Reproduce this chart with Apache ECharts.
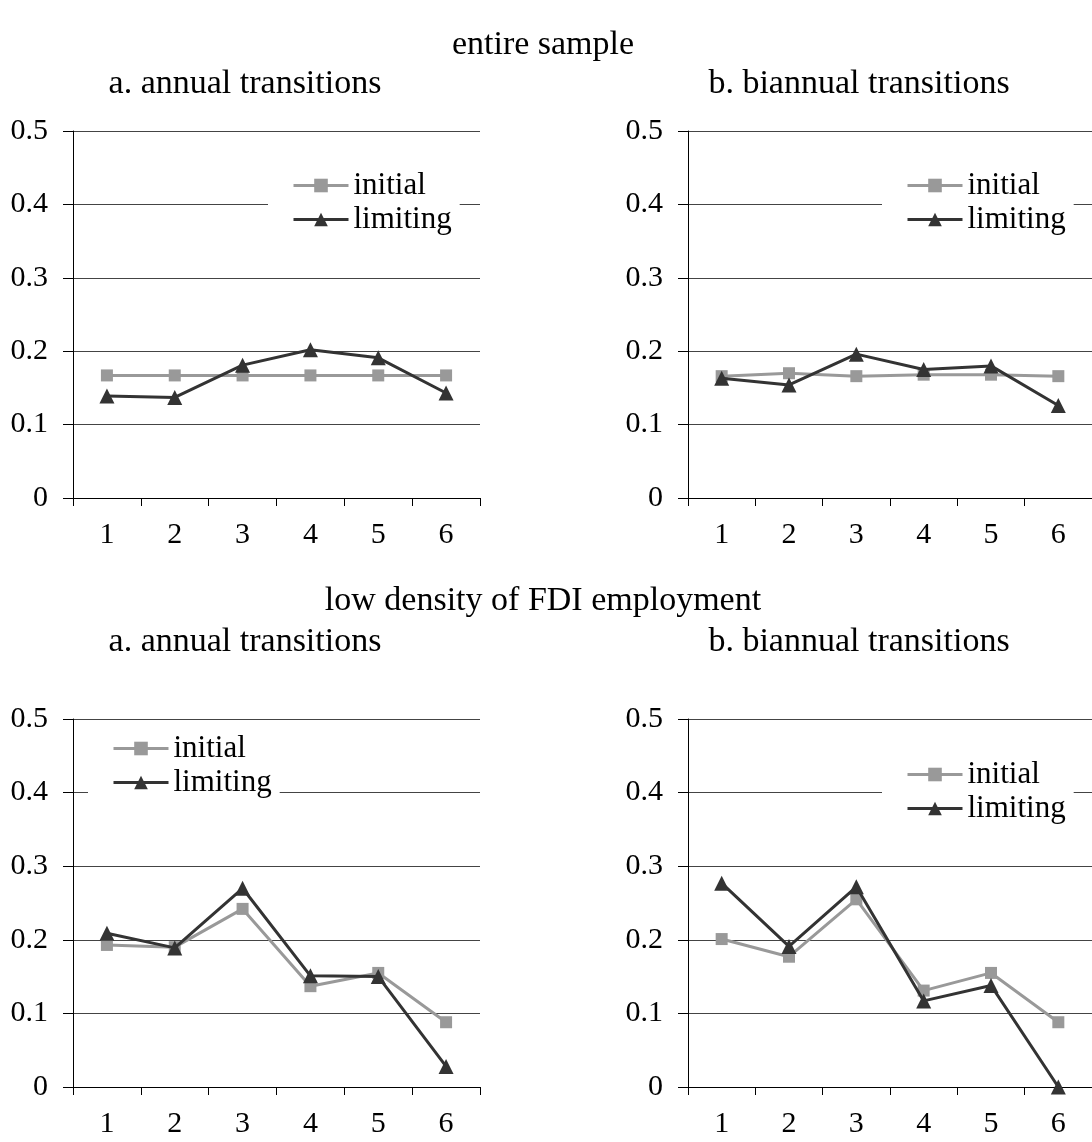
<!DOCTYPE html>
<html>
<head>
<meta charset="utf-8">
<script src="https://cdn.jsdelivr.net/npm/echarts@6/dist/echarts.min.js"></script>
<style>
html,body{margin:0;padding:0;background:#fff;}
#chart{width:1092px;height:1142px;}
</style>
</head>
<body>
<div id="chart"></div>
<script>
// ---- data ----
const categories = ['1', '2', '3', '4', '5', '6'];
const seriesNames = ['initial', 'limiting'];

// entire sample
const entireAnnualInitial   = [0.167, 0.167, 0.167, 0.167, 0.167, 0.167];
const entireAnnualLimiting  = [0.139, 0.137, 0.181, 0.202, 0.191, 0.143];
const entireBiannualInitial  = [0.166, 0.170, 0.166, 0.168, 0.168, 0.166];
const entireBiannualLimiting = [0.163, 0.154, 0.196, 0.175, 0.180, 0.126];

// low density of FDI employment
const lowAnnualInitial   = [0.193, 0.190, 0.242, 0.137, 0.155, 0.088];
const lowAnnualLimiting  = [0.209, 0.189, 0.270, 0.151, 0.150, 0.028];
const lowBiannualInitial  = [0.201, 0.177, 0.255, 0.131, 0.155, 0.088];
const lowBiannualLimiting = [0.277, 0.191, 0.272, 0.117, 0.138, 0.000];

const yMin = 0, yMax = 0.5, yStep = 0.1;

const sectionTitles = ['entire sample', 'low density of FDI employment'];
const panelTitles = ['a. annual transitions', 'b. biannual transitions'];

// ---- layout ----
const FONT = '"Liberation Serif", "Times New Roman", serif';
const FS = 30;
const grids = [
  {left: 73, top: 131, width: 407, height: 367},
  {left: 688, top: 131, width: 408, height: 367},
  {left: 73, top: 719, width: 407, height: 368},
  {left: 688, top: 719, width: 408, height: 368}
];
const panelData = [
  [entireAnnualInitial, entireAnnualLimiting],
  [entireBiannualInitial, entireBiannualLimiting],
  [lowAnnualInitial, lowAnnualLimiting],
  [lowBiannualInitial, lowBiannualLimiting]
];
const legendPos = [
  {left: 268, top: 166},
  {left: 882, top: 166},
  {left: 88, top: 729},
  {left: 882, top: 755}
];
const colors = ['#999999', '#333333'];
const symbols = ['rect', 'triangle'];
const symbolSizes = [12, 15];

const titleStyle = {fontFamily: FONT, fontSize: 34, fontWeight: 'normal', color: '#000'};
const option = {
  animation: false,
  backgroundColor: '#ffffff',
  title: [
    {text: sectionTitles[0], left: 543, top: 28, textAlign: 'center'},
    {text: panelTitles[0], left: 245, top: 67, textAlign: 'center'},
    {text: panelTitles[1], left: 859, top: 67, textAlign: 'center'},
    {text: sectionTitles[1], left: 543, top: 584, textAlign: 'center'},
    {text: panelTitles[0], left: 245, top: 625, textAlign: 'center'},
    {text: panelTitles[1], left: 859, top: 625, textAlign: 'center'}
  ].map(t => Object.assign(t, {padding: 0, textStyle: titleStyle})),
  grid: grids.map(g => Object.assign({containLabel: false}, g)),
  xAxis: grids.map((g, i) => ({
    type: 'category',
    gridIndex: i,
    data: categories,
    boundaryGap: true,
    axisLine: {show: true, lineStyle: {color: '#000', width: 1}},
    axisTick: {show: true, interval: 0, length: 8, lineStyle: {color: '#000'}},
    axisLabel: {margin: 22, fontFamily: FONT, fontSize: FS, color: '#000'},
    splitLine: {show: false}
  })),
  yAxis: grids.map((g, i) => ({
    type: 'value',
    gridIndex: i,
    min: yMin, max: yMax, interval: yStep,
    axisLine: {show: true, onZero: false, lineStyle: {color: '#000', width: 1}},
    axisTick: {show: true, length: 10, lineStyle: {color: '#000'}},
    axisLabel: {margin: 25, fontFamily: FONT, fontSize: FS, color: '#000',
      formatter: v => (Math.round(v * 10) / 10).toString()},
    splitLine: {show: true, lineStyle: {color: '#444', width: 1}}
  })),
  legend: legendPos.map((p, i) => ({
    orient: 'vertical',
    left: p.left, top: p.top,
    padding: [4, 8, 4, 24],
    itemGap: 3,
    itemWidth: 55,
    itemHeight: 17,
    backgroundColor: '#ffffff',
    data: seriesNames,
    selectedMode: false,
    lineStyle: {width: 3},
    textStyle: {fontFamily: FONT, fontSize: 31, color: '#000'}
  })),
  series: []
};

panelData.forEach((pair, gi) => {
  pair.forEach((vals, si) => {
    option.series.push({
      name: seriesNames[si],
      type: 'line',
      xAxisIndex: gi,
      yAxisIndex: gi,
      data: vals,
      clip: false,
      symbol: symbols[si],
      symbolSize: symbolSizes[si],
      showAllSymbol: true,
      lineStyle: {color: colors[si], width: 3},
      itemStyle: {color: colors[si]},
      z: si === 0 ? 2 : 3
    });
  });
});

const chart = echarts.init(document.getElementById('chart'), null, {renderer: 'canvas'});
chart.setOption(option);
</script>
</body>
</html>
